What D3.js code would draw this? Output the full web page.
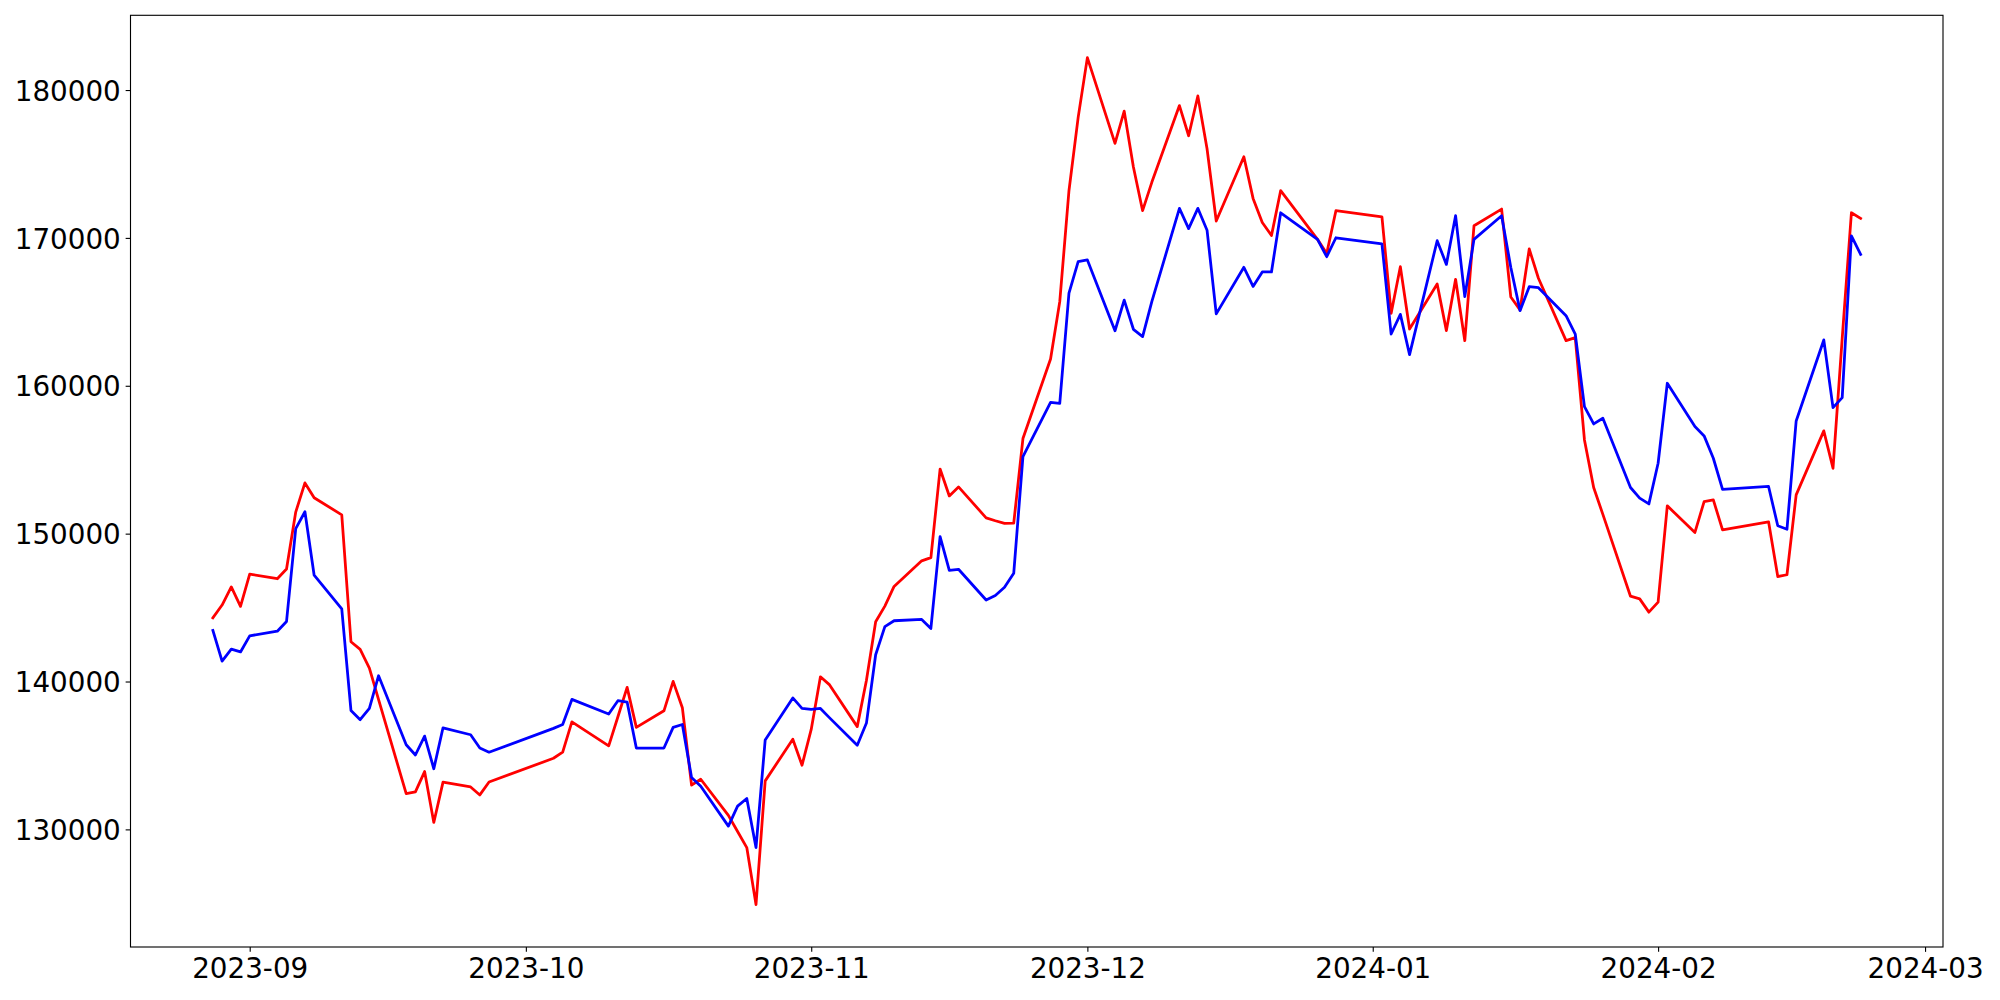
<!DOCTYPE html>
<html>
<head>
<meta charset="utf-8">
<script src="https://cdn.jsdelivr.net/npm/d3@7"></script>
<style>
  html, body { margin: 0; padding: 0; background: #ffffff; }
  svg { display: block; }
</style>
</head>
<body>
<svg id="chart" width="2000" height="1000"></svg>
<script>
// ---- data ----
const dates = [
  "2023-08-28","2023-08-29","2023-08-30","2023-08-31","2023-09-01",
  "2023-09-04","2023-09-05","2023-09-06","2023-09-07","2023-09-08",
  "2023-09-11","2023-09-12","2023-09-13","2023-09-14","2023-09-15",
  "2023-09-18","2023-09-19","2023-09-20","2023-09-21","2023-09-22",
  "2023-09-25","2023-09-26","2023-09-27",
  "2023-10-04","2023-10-05","2023-10-06",
  "2023-10-10","2023-10-11","2023-10-12","2023-10-13",
  "2023-10-16","2023-10-17","2023-10-18","2023-10-19","2023-10-20",
  "2023-10-23","2023-10-24","2023-10-25","2023-10-26","2023-10-27",
  "2023-10-30","2023-10-31","2023-11-01","2023-11-02","2023-11-03",
  "2023-11-06","2023-11-07","2023-11-08","2023-11-09","2023-11-10",
  "2023-11-13","2023-11-14","2023-11-15","2023-11-16","2023-11-17",
  "2023-11-20","2023-11-21","2023-11-22","2023-11-23","2023-11-24",
  "2023-11-27","2023-11-28","2023-11-29","2023-11-30","2023-12-01",
  "2023-12-04","2023-12-05","2023-12-06","2023-12-07","2023-12-08",
  "2023-12-11","2023-12-12","2023-12-13","2023-12-14","2023-12-15",
  "2023-12-18","2023-12-19","2023-12-20","2023-12-21","2023-12-22",
  "2023-12-26","2023-12-27","2023-12-28",
  "2024-01-02","2024-01-03","2024-01-04","2024-01-05",
  "2024-01-08","2024-01-09","2024-01-10","2024-01-11","2024-01-12",
  "2024-01-15","2024-01-16","2024-01-17","2024-01-18","2024-01-19",
  "2024-01-22","2024-01-23","2024-01-24","2024-01-25","2024-01-26",
  "2024-01-29","2024-01-30","2024-01-31","2024-02-01","2024-02-02",
  "2024-02-05","2024-02-06","2024-02-07","2024-02-08",
  "2024-02-13","2024-02-14","2024-02-15","2024-02-16",
  "2024-02-19","2024-02-20","2024-02-21","2024-02-22","2024-02-23"
];

const redValues = [
  144300,145170,146400,145080,147260,
  146950,147610,151460,153430,152430,
  151270,142690,142170,140910,138770,
  132420,132540,133910,130470,133200,
  132870,132330,133200,
  134810,135220,137270,
  135650,137620,139600,136900,
  138020,140010,138230,132990,133390,
  130950,129860,128770,124910,133280,
  136100,134340,136760,140320,139770,
  136950,140080,144040,145100,146430,
  148160,148380,154370,152550,153160,
  151070,150870,150690,150710,156430,
  161810,165690,173190,178150,182190,
  176390,178570,174790,171840,173760,
  178950,176910,179600,176030,171140,
  175490,172670,171040,170160,173200,
  169900,168950,171840,
  171430,164900,168050,163840,
  166880,163730,167200,163050,170820,
  171950,166000,165130,169250,167270,
  163050,163260,156340,153120,151300,
  145770,145590,144690,145370,151880,
  150080,152170,152280,150260,
  150800,147100,147220,152620,
  156950,154420,163200,171700,171320
];

const blueValues = [
  143450,141380,142190,142000,143090,
  143400,144060,150340,151480,147190,
  144920,138040,137420,138180,140390,
  135720,135030,136310,134100,136870,
  136400,135500,135220,
  136830,137090,138790,
  137800,138700,138610,135500,
  135500,136900,137090,133510,132920,
  130220,131570,132090,128770,136050,
  138890,138180,138110,138180,137540,
  135690,137190,141810,143710,144110,
  144200,143590,149800,147520,147590,
  145510,145820,146370,147320,155210,
  158880,158810,166260,168400,168510,
  163720,165790,163820,163330,165690,
  172000,170630,172000,170520,164860,
  168010,166720,167700,167700,171700,
  169900,168730,170010,
  169590,163500,164830,162110,
  169810,168210,171500,166030,169900,
  171500,168000,165080,166700,166630,
  164740,163500,158590,157420,157800,
  153120,152400,152010,154760,160170,
  157240,156610,155100,153000,
  153190,150530,150300,157620,
  163100,158520,159200,170130,168890
];

const yTickValues = [130000, 140000, 150000, 160000, 170000, 180000];
const xTickLabels = ["2023-09","2023-10","2023-11","2023-12","2024-01","2024-02","2024-03"];

// ---- layout ----
const W = 2000, H = 1000;
const plot = { left: 130.5, top: 15.3, right: 1943, bottom: 947 };
const fontSize = 27.78;
const tickLen = 4.86, tickPad = 4.86, lineW = 1.11;

const parse = d3.timeParse("%Y-%m-%d");
const parseMonth = d3.timeParse("%Y-%m");
const xDates = dates.map(parse);

// matplotlib-like 5% autoscale margins
const xExt = d3.extent(xDates);
const xSpan = xExt[1] - xExt[0];
const x = d3.scaleTime()
  .domain([new Date(+xExt[0] - 0.05 * xSpan), new Date(+xExt[1] + 0.05 * xSpan)])
  .range([plot.left, plot.right]);

const allVals = redValues.concat(blueValues);
const yMin = d3.min(allVals), yMax = d3.max(allVals);
const ySpan = yMax - yMin;
const y = d3.scaleLinear()
  .domain([yMin - 0.05 * ySpan, yMax + 0.05 * ySpan])
  .range([plot.bottom, plot.top]);

const svg = d3.select("#chart");
svg.append("rect").attr("x", 0).attr("y", 0).attr("width", W).attr("height", H).attr("fill", "#ffffff");

// ---- lines ----
const redData = xDates.map((d, i) => ({ d, v: redValues[i] }));
const blueData = xDates.map((d, i) => ({ d, v: blueValues[i] }));
const line = d3.line().x(p => x(p.d)).y(p => y(p.v));

svg.append("clipPath").attr("id", "plotclip").append("rect")
  .attr("x", plot.left).attr("y", plot.top)
  .attr("width", plot.right - plot.left).attr("height", plot.bottom - plot.top);

const g = svg.append("g").attr("clip-path", "url(#plotclip)");
g.append("path").datum(redData)
  .attr("d", line).attr("fill", "none").attr("stroke", "#ff0000")
  .attr("stroke-width", 2.78).attr("stroke-linejoin", "round").attr("stroke-linecap", "square");
g.append("path").datum(blueData)
  .attr("d", line).attr("fill", "none").attr("stroke", "#0000ff")
  .attr("stroke-width", 2.78).attr("stroke-linejoin", "round").attr("stroke-linecap", "square");

// ---- axes ----
const fmt = d3.timeFormat("%Y-%m");
const xAxis = d3.axisBottom(x)
  .tickValues(xTickLabels.map(parseMonth))
  .tickFormat(fmt)
  .tickSize(tickLen).tickPadding(tickPad).tickSizeOuter(0);
const gx = svg.append("g").attr("transform", `translate(0,${plot.bottom})`).call(xAxis);
gx.select(".domain").remove();
gx.selectAll(".tick line").attr("stroke", "#000").attr("stroke-width", lineW);
gx.selectAll(".tick text")
  .attr("font-family", "'DejaVu Sans', sans-serif").attr("font-size", fontSize)
  .attr("fill", "#000").attr("dy", "0.76em");

const yAxis = d3.axisLeft(y)
  .tickValues(yTickValues)
  .tickFormat(d3.format("d"))
  .tickSize(tickLen).tickPadding(tickPad).tickSizeOuter(0);
const gy = svg.append("g").attr("transform", `translate(${plot.left},0)`).call(yAxis);
gy.select(".domain").remove();
gy.selectAll(".tick line").attr("stroke", "#000").attr("stroke-width", lineW);
gy.selectAll(".tick text")
  .attr("font-family", "'DejaVu Sans', sans-serif").attr("font-size", fontSize)
  .attr("fill", "#000").attr("dy", "0.364em");

// ---- frame (spines) ----
svg.append("rect")
  .attr("x", plot.left).attr("y", plot.top)
  .attr("width", plot.right - plot.left).attr("height", plot.bottom - plot.top)
  .attr("fill", "none").attr("stroke", "#000").attr("stroke-width", lineW);
</script>
</body>
</html>
